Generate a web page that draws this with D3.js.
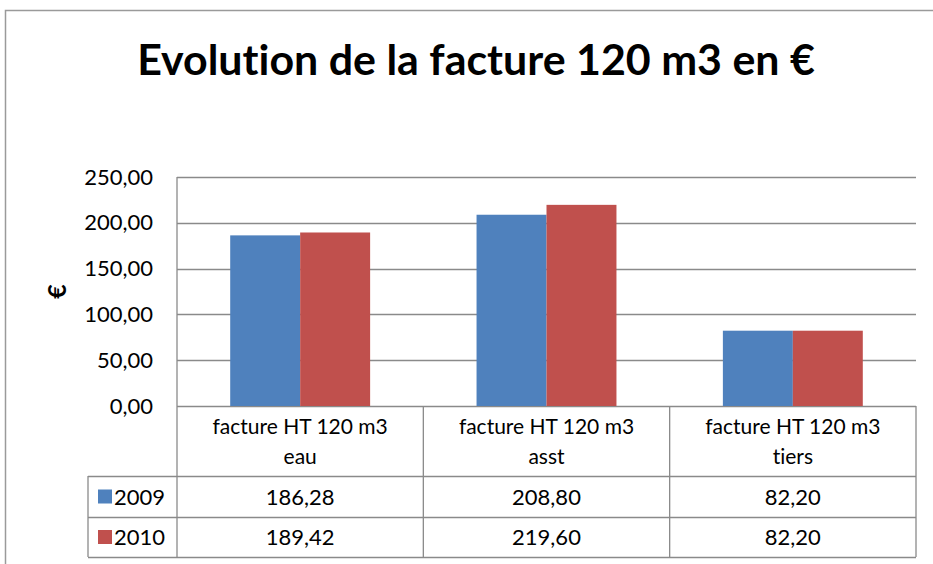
<!DOCTYPE html>
<html><head><meta charset="utf-8">
<script src="https://cdn.jsdelivr.net/npm/d3@7"></script>
<style>
html,body{margin:0;padding:0;background:#fff;}
svg{display:block;}
text{font-family:Lato,"Open Sans",sans-serif;fill:#000;font-variant-ligatures:none;font-feature-settings:"liga" 0;}
</style></head>
<body>
<svg id="c" width="933" height="564"></svg>
<script>
const titleText = "Evolution de la facture 120 m3 en €";
const yLabel = "€";
const categories = ["facture HT 120 m3 eau", "facture HT 120 m3 asst", "facture HT 120 m3 tiers"];
const categoryLines = [["facture HT 120 m3", "eau"], ["facture HT 120 m3", "asst"], ["facture HT 120 m3", "tiers"]];
const seriesNames = ["2009", "2010"];
const values2009 = [186.28, 208.80, 82.20];
const values2010 = [189.42, 219.60, 82.20];
const seriesColors = ["#4F81BD", "#C0504D"];
const yTicks = [0, 50, 100, 150, 200, 250];

const svg = d3.select("#c");
const L = 177, R = 916, T = 177, B = 406;
const rowH = [476, 517, 557];
const legendLeft = 88;
const grid = "#8a8a8a";
const fmt = v => d3.format(".2f")(v).replace(".", ",");

// outer frame
svg.append("path").attr("d", `M5.5,564 V10.5 H933`).attr("fill","none").attr("stroke","#9a9a9a").attr("stroke-width",1.5);

// title
const title = svg.append("text").attr("x", 476).attr("y", 75).attr("text-anchor","middle")
  .attr("font-weight","bold").attr("font-size", 40).text(titleText);
const tw = title.node().getComputedTextLength();
title.attr("font-size", 40 * 678 / tw);

const y = d3.scaleLinear().domain([0, 250]).range([B, T]);
const x = d3.scaleBand().domain(categories).range([L, R]).paddingInner(0.432).paddingOuter(0.216);
const xs = d3.scaleBand().domain(seriesNames).range([0, x.bandwidth()]);
const colW = (R - L) / categories.length;

// gridlines
svg.append("g").selectAll("line").data(yTicks).join("line")
  .attr("x1", L).attr("x2", R).attr("y1", d => Math.round(y(d)) + 0.5).attr("y2", d => Math.round(y(d)) + 0.5)
  .attr("stroke", grid).attr("stroke-width", 1.3);

// y axis labels
const yAxis = d3.axisLeft(y).tickValues(yTicks).tickFormat(fmt).tickSize(0).tickPadding(24);
const ga = svg.append("g").attr("transform", `translate(${L},0)`).call(yAxis);
ga.select(".domain").remove();
ga.selectAll("text").attr("font-size", 22).attr("font-family","Lato").attr("fill","#000");

// y label
svg.append("text").attr("transform", `translate(66,${(T+B)/2}) rotate(-90)`).attr("text-anchor","middle")
  .attr("font-weight","bold").attr("font-size", 25).text(yLabel);

// bars
const seriesVals = [values2009, values2010];
seriesNames.forEach((s, si) => {
  svg.append("g").selectAll("rect").data(categories).join("rect")
    .attr("x", c => x(c) + xs(s)).attr("width", xs.bandwidth())
    .attr("y", (c, i) => y(seriesVals[si][i])).attr("height", (c, i) => y(0) - y(seriesVals[si][i]))
    .attr("fill", seriesColors[si]);
});

// table lines
const tl = svg.append("g").attr("stroke", grid).attr("stroke-width", 1.3).attr("fill","none");
tl.append("line").attr("x1", L).attr("x2", L).attr("y1", T).attr("y2", rowH[2]);
for (let i = 1; i <= categories.length; i++) {
  const xx = L + colW * i;
  tl.append("line").attr("x1", xx).attr("x2", xx).attr("y1", B).attr("y2", rowH[2]);
}
rowH.forEach(h => tl.append("line").attr("x1", legendLeft).attr("x2", R).attr("y1", h + 0.5).attr("y2", h + 0.5));
tl.append("line").attr("x1", legendLeft).attr("x2", legendLeft).attr("y1", rowH[0]).attr("y2", rowH[2]);

// category labels
categories.forEach((c, i) => {
  const cx = x(c) + x.bandwidth() / 2;
  categoryLines[i].forEach((ln, li) => {
    svg.append("text").attr("x", cx).attr("y", 434 + li * 30).attr("text-anchor","middle")
      .attr("font-size", 21).text(ln);
  });
});

// data rows
seriesNames.forEach((s, si) => {
  const top = rowH[si], bot = rowH[si + 1];
  const mid = (top + bot) / 2;
  svg.append("rect").attr("x", 98).attr("y", mid - 7).attr("width", 14).attr("height", 14).attr("fill", seriesColors[si]);
  svg.append("text").attr("x", 114).attr("y", mid + 8).attr("font-size", 22).text(s);
  categories.forEach((c, i) => {
    svg.append("text").attr("x", x(c) + x.bandwidth() / 2).attr("y", mid + 8).attr("text-anchor","middle")
      .attr("font-size", 22).text(fmt(seriesVals[si][i]));
  });
});
</script>
</body></html>
